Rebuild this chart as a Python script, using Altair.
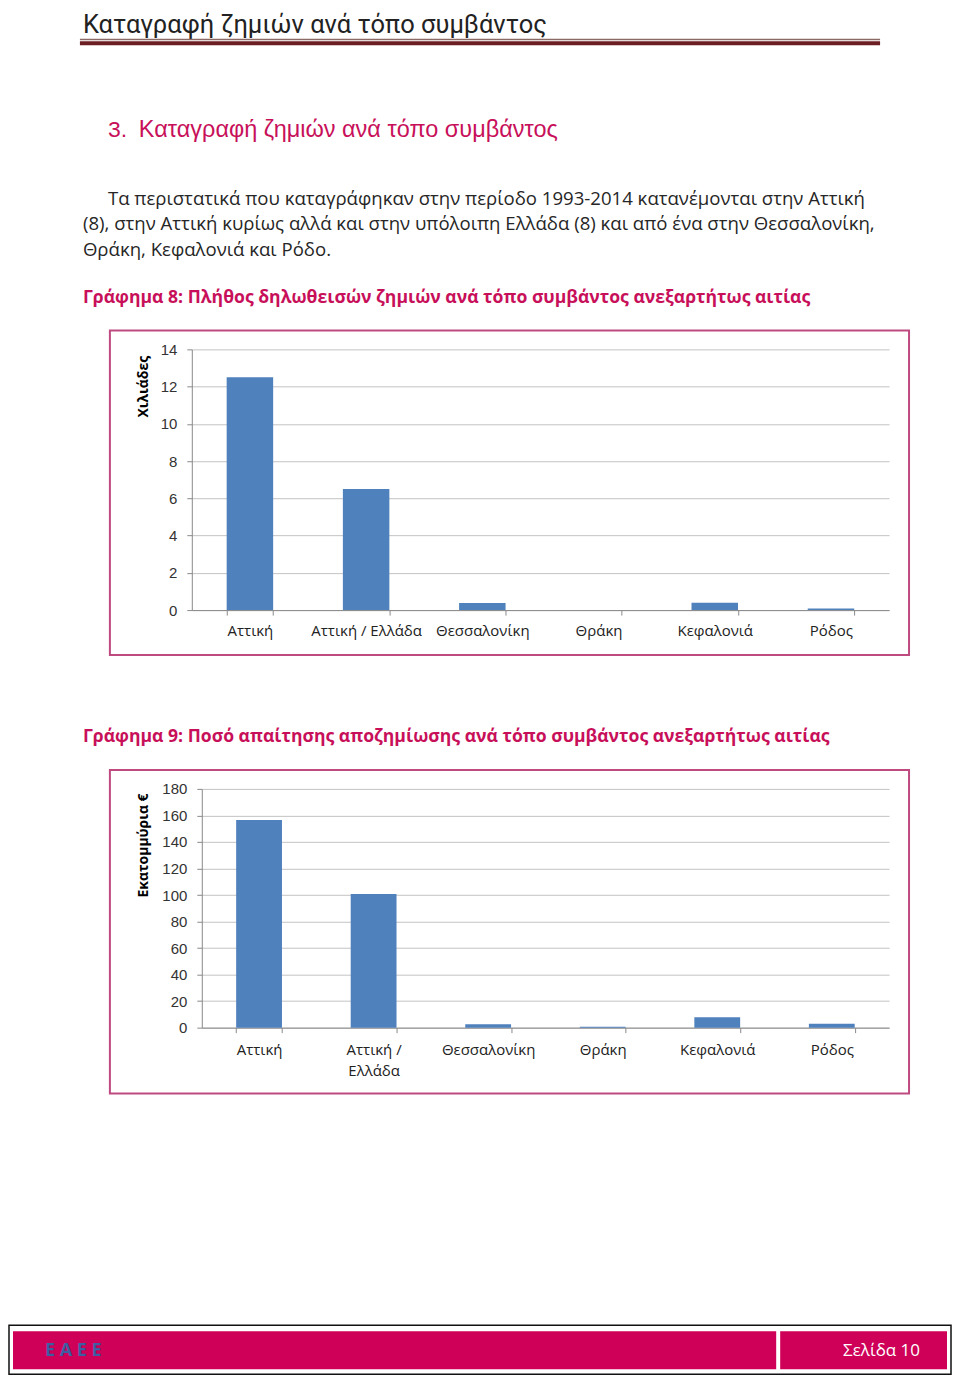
import altair as alt
import pandas as pd

# ---------------- data ----------------
categories = ["Αττική", "Αττική / Ελλάδα", "Θεσσαλονίκη", "Θράκη", "Κεφαλονιά", "Ρόδος"]
claims_thousands = [12.5, 6.5, 0.38, 0.0, 0.4, 0.08]
amount_million_eur = [156.6, 100.8, 2.6, 0.6, 7.8, 3.0]
y1_ticks = [0, 2, 4, 6, 8, 10, 12, 14]
y2_ticks = [0, 20, 40, 60, 80, 100, 120, 140, 160, 180]

header_title = "Καταγραφή ζημιών ανά τόπο συμβάντος"
section_number = "3."
section_title = "Καταγραφή ζημιών ανά τόπο συμβάντος"
paragraph_lines = [
    "Τα περιστατικά που καταγράφηκαν στην περίοδο 1993-2014 κατανέμονται στην Αττική",
    "(8), στην Αττική κυρίως αλλά και στην υπόλοιπη Ελλάδα (8) και από ένα στην Θεσσαλονίκη,",
    "Θράκη, Κεφαλονιά και Ρόδο.",
]
chart8_title = "Γράφημα 8: Πλήθος δηλωθεισών ζημιών ανά τόπο συμβάντος ανεξαρτήτως αιτίας"
chart9_title = "Γράφημα 9: Ποσό απαίτησης αποζημίωσης ανά τόπο συμβάντος ανεξαρτήτως αιτίας"
y1_title = "Χιλιάδες"
y2_title = "Εκατομμύρια €"
footer_left = "Ε Α Ε Ε"
footer_right = "Σελίδα 10"

# ---------------- styles ----------------
SANS = "Open Sans"
ARIAL = "Liberation Sans"
CRIMSON = "#c8105a"
BORDER = "#bf4a80"
BAR = "#4f81bd"
GRID = "#c3c3c3"
AXIS = "#8a8a8a"

one = pd.DataFrame({"k": [0]})


def text_mark(txt, x, y, size, color, font=SANS, weight="normal", align="left",
              baseline="alphabetic", angle=0):
    return alt.Chart(one).mark_text(
        text=txt, fontSize=size, color=color, font=font, fontWeight=weight,
        align=align, baseline=baseline, angle=angle,
    ).encode(x=alt.value(x), y=alt.value(y))


def rect_mark(x, x2, y, y2, fill=None, stroke=None, sw=1.0, opacity=1.0):
    kw = {"opacity": opacity}
    if fill is not None:
        kw["fill"] = fill
    else:
        kw["fillOpacity"] = 0
    if stroke is not None:
        kw["stroke"] = stroke
        kw["strokeWidth"] = sw
    return alt.Chart(one).mark_rect(**kw).encode(
        x=alt.value(x), x2=alt.value(x2), y=alt.value(y), y2=alt.value(y2)
    )


# ---------------- top block (origin page x=192, y=8) ----------------
W1 = 698
top = alt.layer(
    rect_mark(-184, -183, 0, 1, fill="#ffffff", opacity=0),
    text_mark(header_title, -109, 24.2, 25.5, "#222222", font="Roboto"),
    rect_mark(-112, 689, 30, 31.5, fill="#8a6a65"),
    rect_mark(-112, 689, 32.5, 36.5, fill="#6b1e22"),
    text_mark(section_number, -84, 128, 23, CRIMSON, font=ARIAL),
    text_mark(section_title, -53, 128, 23.5, CRIMSON, font=ARIAL),
    text_mark(paragraph_lines[0], -84, 196, 18.6, "#262626"),
    text_mark(paragraph_lines[1], -109, 222, 18.6, "#262626"),
    text_mark(paragraph_lines[2], -109, 248, 18.6, "#262626"),
    text_mark(chart8_title, -109, 295, 17.6, CRIMSON, weight="bold"),
).properties(width=W1, height=341)

# ---------------- chart 8 (origin page x=192, y=349) ----------------
df1 = pd.DataFrame({"cat": categories, "val": claims_thousands})
bars1 = alt.Chart(df1).mark_bar(color=BAR).encode(
    x=alt.X(
        "cat:N", sort=categories,
        scale=alt.Scale(paddingInner=0.6, paddingOuter=0.3),
        axis=alt.Axis(
            title=None, labelAngle=0, tickBand="extent", tickSize=5, labelPadding=8,
            labelFont=SANS, labelFontSize=15, labelColor="#222222",
            domainColor=AXIS, tickColor=AXIS, grid=False,
        ),
    ),
    y=alt.Y(
        "val:Q", scale=alt.Scale(domain=[0, 14], nice=False),
        axis=alt.Axis(
            values=y1_ticks, title=y1_title, titleAngle=270, titleX=-48, titleY=6,
            titleAlign="right", titleBaseline="middle", titleFont=SANS,
            titleFontSize=14, titleFontWeight="bold", titleColor="#000000",
            labelFont=ARIAL, labelFontSize=15, labelColor="#333333", labelPadding=10,
            tickSize=5, domainColor=AXIS, tickColor=AXIS, gridColor=GRID,
        ),
    ),
)
chart1 = alt.layer(
    rect_mark(-82, 718, -19, 306, stroke=BORDER, sw=2),
    bars1,
).properties(width=W1, height=261)

# ---------------- spacer ----------------
spacer_v = alt.Chart(one).mark_point(opacity=0).encode(
    x=alt.value(10), y=alt.value(10)
).properties(width=W1, height=179)

# ---------------- chart 9 (origin page x=202, y=789) ----------------
W2 = 688
df2 = pd.DataFrame({"cat": categories, "val": amount_million_eur})
bars2 = alt.Chart(df2).mark_bar(color=BAR).encode(
    x=alt.X(
        "cat:N", sort=categories,
        scale=alt.Scale(paddingInner=0.6, paddingOuter=0.3),
        axis=alt.Axis(
            title=None, labelAngle=0, tickBand="extent", tickSize=5, labelPadding=10,
            labelFont=SANS, labelFontSize=15, labelColor="#222222", labelLineHeight=21,
            labelExpr="datum.value == 'Αττική / Ελλάδα' ? ['Αττική /', 'Ελλάδα'] : datum.value",
            domainColor=AXIS, tickColor=AXIS, grid=False,
        ),
    ),
    y=alt.Y(
        "val:Q", scale=alt.Scale(domain=[0, 180], nice=False),
        axis=alt.Axis(
            values=y2_ticks, title=y2_title, titleAngle=270, titleX=-58, titleY=4,
            titleAlign="right", titleBaseline="middle", titleFont=SANS,
            titleFontSize=14, titleFontWeight="bold", titleColor="#000000",
            labelFont=ARIAL, labelFontSize=15, labelColor="#333333", labelPadding=10,
            tickSize=5, domainColor=AXIS, tickColor=AXIS, gridColor=GRID,
        ),
    ),
)
chart2 = alt.layer(
    text_mark(chart9_title, -119, -47, 17.6, CRIMSON, weight="bold"),
    rect_mark(-92, 708, -19, 305, stroke=BORDER, sw=2),
    bars2,
    # footer
    rect_mark(-193, 750, 537, 586, stroke="#111111", sw=1.5),
    rect_mark(-189, 575, 543, 581, fill="#cf0057"),
    rect_mark(579, 746, 543, 581, fill="#cf0057"),
    text_mark(footer_left, -157, 563, 18, "#3d5ea3", weight="bold", baseline="middle"),
    text_mark(footer_right, 719, 563, 17, "#ffffff", align="right", baseline="middle"),
).properties(width=W2, height=239)

spacer_h = alt.Chart(one).mark_point(opacity=0).encode(
    x=alt.value(2), y=alt.value(10)
).properties(width=10, height=239)

row2 = alt.hconcat(spacer_h, chart2, spacing=0, bounds="flush")

chart = alt.vconcat(top, chart1, spacer_v, row2, spacing=0, bounds="flush").properties(
    padding=0
).configure_view(stroke=None)

chart.save("out.html", embed_options={"renderer": "svg", "actions": False})
